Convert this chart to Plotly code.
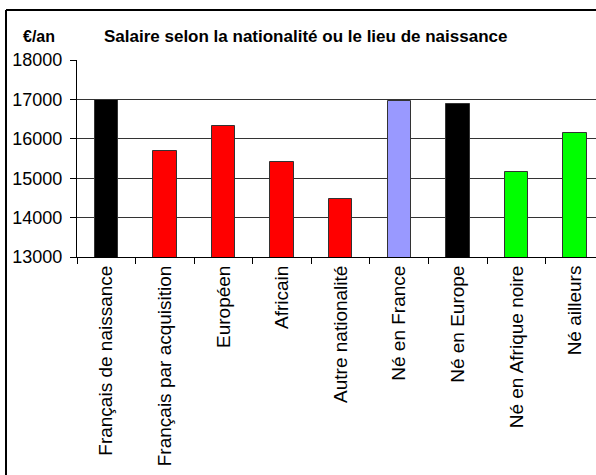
import plotly.graph_objects as go

# Annual salary (EUR) by nationality / place of birth
categories = [
    "Français de naissance",
    "Français par acquisition",
    "Européen",
    "Africain",
    "Autre nationalité",
    "Né en France",
    "Né en Europe",
    "Né en Afrique noire",
    "Né ailleurs",
]
salaries = [16990, 15700, 16320, 15420, 14470, 16970, 16890, 15150, 16160]
bar_colors = ["#000000", "#FF0000", "#FF0000", "#FF0000", "#FF0000",
              "#9999FF", "#000000", "#00FF00", "#00FF00"]
y_ticks = [13000, 14000, 15000, 16000, 17000, 18000]
y_tick_text = ["13000", "14000", "15000", "16000", "17000", "18000"]

W, H = 596, 475
ML, MR, MT, MB = 77, 0, 60, 218
FONT = "Liberation Sans, Arial, sans-serif"


def px_x(p):
    return (p - ML) / (W - ML - MR)


def px_y(p):
    return 1 - (p - MT) / (H - MT - MB)


fig = go.Figure(
    go.Bar(
        x=categories,
        y=salaries,
        width=0.4,
        marker=dict(color=bar_colors, line=dict(color="#333333", width=1)),
    )
)

fig.update_layout(
    width=W,
    height=H,
    margin=dict(l=ML, r=MR, t=MT, b=MB, pad=0),
    paper_bgcolor="white",
    plot_bgcolor="white",
    showlegend=False,
    font=dict(family=FONT, color="black"),
    bargap=0,
)

fig.update_xaxes(
    type="category",
    range=[-0.5, 8.357],
    tickangle=-90,
    tickson="boundaries",
    ticks="outside",
    ticklen=6,
    tickcolor="black",
    tickfont=dict(size=19, family=FONT),
    showline=True,
    linecolor="black",
    linewidth=1,
    showgrid=False,
)

fig.update_yaxes(
    range=[13000, 18000],
    tickvals=y_ticks,
    ticktext=y_tick_text,
    ticks="outside",
    ticklen=6,
    tickcolor="black",
    tickfont=dict(size=18, family=FONT),
    ticklabelstandoff=4,
    showline=True,
    linecolor="black",
    linewidth=1,
    showgrid=True,
    gridcolor="#333333",
    gridwidth=1,
    zeroline=False,
)

# Chart frame (left and top edges)
fig.add_shape(type="line", xref="paper", yref="paper",
              x0=px_x(6), x1=px_x(6), y0=px_y(10), y1=px_y(480),
              line=dict(color="black", width=2))
fig.add_shape(type="line", xref="paper", yref="paper",
              x0=px_x(6), x1=px_x(596), y0=px_y(10), y1=px_y(10),
              line=dict(color="black", width=2))

# Title and unit label
fig.add_annotation(
    text="<b>Salaire selon la nationalité ou le lieu de naissance</b>",
    xref="paper", yref="paper", x=px_x(305), y=px_y(36),
    xanchor="center", yanchor="middle", showarrow=False,
    font=dict(size=17, family=FONT, color="black"),
)
fig.add_annotation(
    text="<b>€/an</b>",
    xref="paper", yref="paper", x=px_x(39), y=px_y(36),
    xanchor="center", yanchor="middle", showarrow=False,
    font=dict(size=16, family=FONT, color="black"),
)

fig.write_html("out.html")
